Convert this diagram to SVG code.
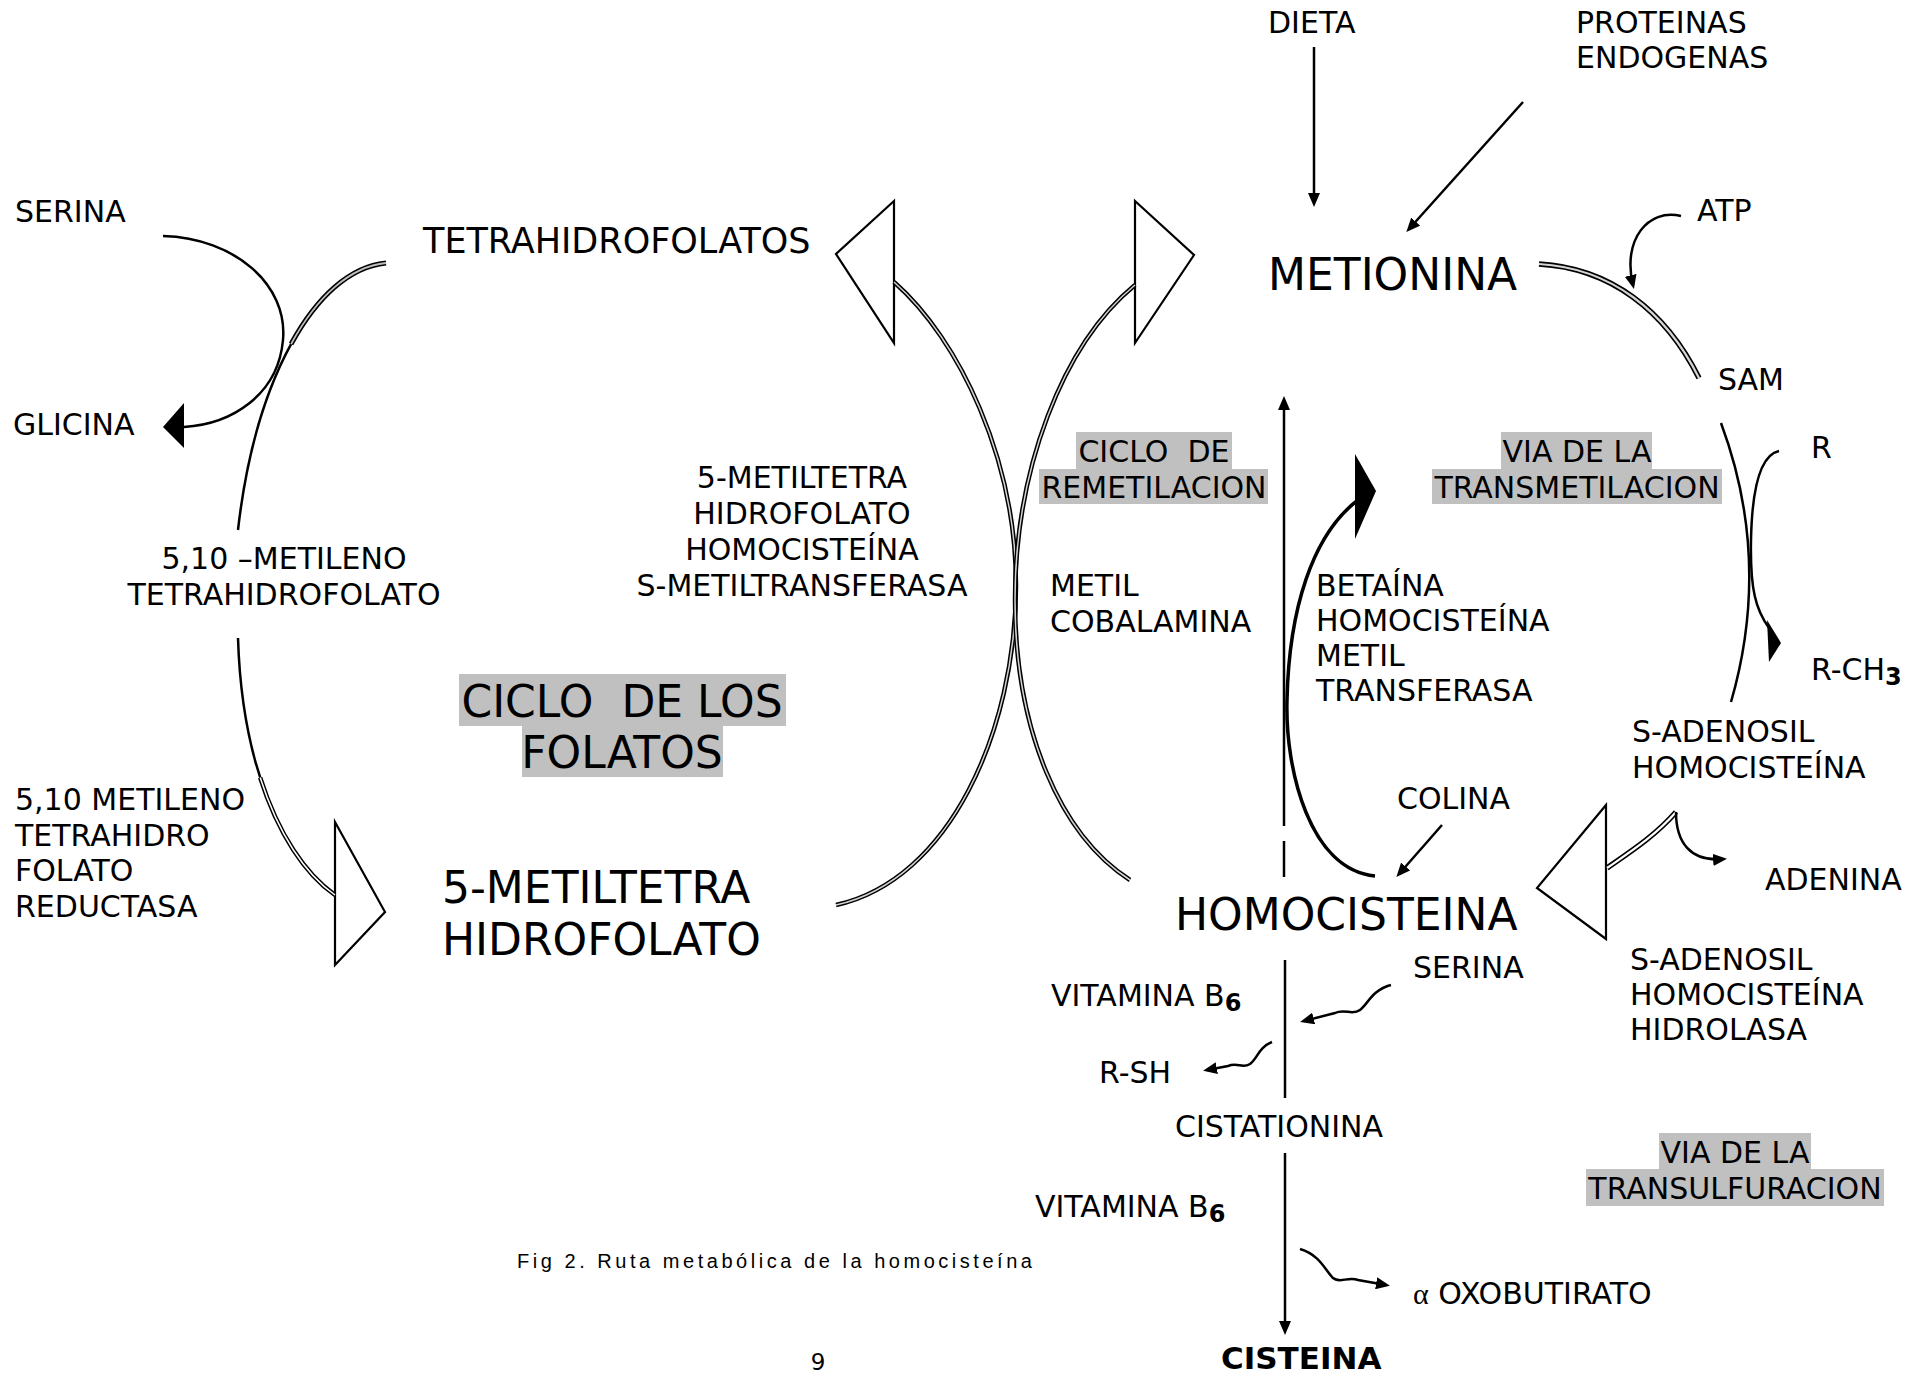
<svg xmlns="http://www.w3.org/2000/svg" width="1908" height="1376" viewBox="0 0 1908 1376" xml:space="preserve">
<style>
text{font-family:"DejaVu Sans",Verdana,sans-serif;font-size:30px;fill:#000;white-space:pre}
.b{font-size:44px}
.m{font-size:35px}
.c{text-anchor:middle}
.sb{font-size:24px;font-weight:bold}
.hl{fill:#c0c0c0}
.ln{fill:none;stroke:#000;stroke-width:2.5}
.thick{stroke-width:3.5}
.o{fill:none;stroke:#000;stroke-width:5.5}
.i{fill:none;stroke:#d4d4d4;stroke-width:2.2}
.tri{fill:#fff;stroke:#000;stroke-width:2.2;stroke-linejoin:miter}
.sol{fill:#000;stroke:none}
</style>
<defs>
<marker id="ah" viewBox="0 0 14 12" refX="10" refY="6" markerWidth="14" markerHeight="12" markerUnits="userSpaceOnUse" orient="auto"><path d="M0,0 L14,6 L0,12 z"/></marker>
<path id="cTetra" d="M386,263 C315,270 255,380 238,530" pathLength="100"/>
<path id="cRed" d="M238,638 C242,770 285,860 335,895" pathLength="100"/>
<path id="cLeftBig" d="M894,282 C960,340 1016,460 1016,585 C1016,730 950,880 836,905"/>
<path id="cRightBig" d="M1135,285 C1062,345 1015,470 1015,600 C1015,730 1060,835 1130,880"/>
<path id="cMet" d="M1539,264 C1610,268 1665,310 1699,378"/>
<path id="cSah" d="M1607,868 C1630,852 1655,836 1676,812"/>
</defs>
<rect width="1908" height="1376" fill="#fff"/>

<g id="highlights">
<rect class="hl" x="1076" y="432" width="156" height="37"/>
<rect class="hl" x="1039" y="469" width="229" height="35"/>
<rect class="hl" x="1501" y="432" width="151" height="37"/>
<rect class="hl" x="1432" y="469" width="290" height="35"/>
<rect class="hl" x="459" y="674" width="327" height="52"/>
<rect class="hl" x="522" y="726" width="201" height="51"/>
<rect class="hl" x="1659" y="1133" width="152" height="36"/>
<rect class="hl" x="1586" y="1169" width="298" height="37"/>
</g>

<g id="connectors">
<line class="ln" x1="1314" y1="47" x2="1314" y2="203" marker-end="url(#ah)"/>
<line class="ln" x1="1523" y1="102" x2="1409" y2="229" marker-end="url(#ah)"/>
<path class="ln" d="M1681,216 C1648,208 1622,240 1633,285" marker-end="url(#ah)"/>
<use href="#cMet" class="o"/>
<use href="#cMet" class="i"/>
<path class="ln" d="M1721,423 Q1772,560 1731,702"/>
<path class="ln" d="M1779,451 C1760,455 1752,490 1751,540 C1750,590 1756,610 1769,628"/>
<polygon class="sol" points="1767,620 1781,643 1769,662"/>
<polygon class="tri" points="1606,805 1537,888 1606,939"/>
<use href="#cSah" class="o"/>
<use href="#cSah" class="i" style="stroke:#fff"/>
<path class="ln" d="M1676,812 C1676,842 1690,862 1723,859" marker-end="url(#ah)"/>
<path class="ln thick" d="M1375,876 C1310,870 1285,770 1287,700 C1289,610 1312,535 1358,500"/>
<polygon class="sol" points="1355,454 1376,491 1355,539"/>
<line class="ln" x1="1442" y1="825" x2="1399" y2="874" marker-end="url(#ah)"/>
<line class="ln" x1="1284" y1="877" x2="1284" y2="841"/>
<line class="ln" x1="1284" y1="826" x2="1284" y2="400" marker-end="url(#ah)"/>
<line class="ln" x1="1285" y1="960" x2="1285" y2="1098"/>
<line class="ln" x1="1285" y1="1153" x2="1285" y2="1331" marker-end="url(#ah)"/>
<path class="ln" d="M1391,985 C1372,990 1368,1004 1360,1010 C1352,1016 1345,1008 1335,1013 L1304,1021" marker-end="url(#ah)"/>
<path class="ln" d="M1272,1042 C1258,1048 1258,1058 1250,1064 C1242,1069 1238,1062 1228,1066 L1207,1070" marker-end="url(#ah)"/>
<path class="ln" d="M1300,1249 C1320,1255 1325,1270 1333,1278 C1340,1284 1348,1276 1358,1280 L1386,1285" marker-end="url(#ah)"/>
<path class="ln" d="M163,236 C235,238 288,285 283,340 C278,395 232,424 184,427"/>
<polygon class="sol" points="184,403 163,427 184,448"/>
<path class="ln" d="M386,263 C315,270 255,380 238,530"/>
<use href="#cTetra" class="o" style="stroke-width:5;stroke-dasharray:40 60"/>
<use href="#cTetra" class="i" style="stroke-width:1.8;stroke-dasharray:40 60;stroke:#bdbdbd"/>
<polygon class="tri" points="335,822 385,912 335,965"/>
<path class="ln" d="M238,638 C242,770 285,860 335,895"/>
<use href="#cRed" class="o" style="stroke-width:4.5;stroke-dasharray:0 50 50 0"/>
<use href="#cRed" class="i" style="stroke-width:1.5;stroke-dasharray:0 50 50 0;stroke:#fff"/>
<polygon class="tri" points="894,201 836,254 894,343"/>
<polygon class="tri" points="1135,201 1194,255 1135,343"/>
<use href="#cLeftBig" class="o" style="stroke-width:4.5"/>
<use href="#cLeftBig" class="i" style="stroke-width:1.5"/>
<use href="#cRightBig" class="o" style="stroke-width:4.5"/>
<use href="#cRightBig" class="i" style="stroke-width:1.5"/>
</g>

<g id="n-dieta"><text x="1268" y="33">DIETA</text></g>
<g id="n-proteinas"><text x="1576" y="33">PROTEINAS</text><text x="1576" y="68">ENDOGENAS</text></g>
<g id="n-serina1"><text x="15" y="222">SERINA</text></g>
<g id="n-glicina"><text x="13" y="435">GLICINA</text></g>
<g id="n-thf"><text class="m" x="423" y="253">TETRAHIDROFOLATOS</text></g>
<g id="n-metionina"><text class="b" x="1268" y="290">METIONINA</text></g>
<g id="n-atp"><text x="1697" y="221">ATP</text></g>
<g id="n-sam"><text x="1718" y="390">SAM</text></g>
<g id="n-r"><text x="1811" y="458">R</text></g>
<g id="n-rch3"><text x="1811" y="680">R-CH<tspan class="sb" dy="5">3</tspan></text></g>
<g id="n-remetilacion"><text class="c" x="1154" y="462">CICLO  DE</text><text class="c" x="1154" y="498">REMETILACION</text></g>
<g id="n-transmetilacion"><text class="c" x="1577" y="462">VIA DE LA</text><text class="c" x="1577" y="498">TRANSMETILACION</text></g>
<g id="n-mtr"><text class="c" x="802" y="488">5-METILTETRA</text><text class="c" x="802" y="524">HIDROFOLATO</text><text class="c" x="802" y="560">HOMOCISTEÍNA</text><text class="c" x="802" y="596">S-METILTRANSFERASA</text></g>
<g id="n-mthf"><text class="c" x="284" y="569">5,10 –METILENO</text><text class="c" x="284" y="605">TETRAHIDROFOLATO</text></g>
<g id="n-mthfr"><text x="15" y="810">5,10 METILENO</text><text x="15" y="846">TETRAHIDRO</text><text x="15" y="881">FOLATO</text><text x="15" y="917">REDUCTASA</text></g>
<g id="n-ciclofolatos"><text class="b c" x="622" y="717">CICLO  DE LOS</text><text class="b c" x="622" y="768">FOLATOS</text></g>
<g id="n-5mthf"><text class="b" x="442" y="903">5-METILTETRA</text><text class="b" x="442" y="955">HIDROFOLATO</text></g>
<g id="n-metilcobalamina"><text x="1050" y="596">METIL</text><text x="1050" y="632">COBALAMINA</text></g>
<g id="n-bhmt"><text x="1316" y="596">BETAÍNA</text><text x="1316" y="631">HOMOCISTEÍNA</text><text x="1316" y="666">METIL</text><text x="1316" y="701">TRANSFERASA</text></g>
<g id="n-sah"><text x="1632" y="742">S-ADENOSIL</text><text x="1632" y="778">HOMOCISTEÍNA</text></g>
<g id="n-colina"><text x="1397" y="809">COLINA</text></g>
<g id="n-adenina"><text x="1765" y="890">ADENINA</text></g>
<g id="n-homocisteina"><text class="b" x="1175" y="930">HOMOCISTEINA</text></g>
<g id="n-serina2"><text x="1413" y="978">SERINA</text></g>
<g id="n-sahh"><text x="1630" y="970">S-ADENOSIL</text><text x="1630" y="1005">HOMOCISTEÍNA</text><text x="1630" y="1040">HIDROLASA</text></g>
<g id="n-vitb6a"><text x="1051" y="1006">VITAMINA B<tspan class="sb" dy="5">6</tspan></text></g>
<g id="n-rsh"><text x="1099" y="1083">R-SH</text></g>
<g id="n-cistationina"><text x="1175" y="1137">CISTATIONINA</text></g>
<g id="n-transulfuracion"><text class="c" x="1735" y="1163">VIA DE LA</text><text class="c" x="1735" y="1199">TRANSULFURACION</text></g>
<g id="n-vitb6b"><text x="1035" y="1217">VITAMINA B<tspan class="sb" dy="5">6</tspan></text></g>
<g id="n-oxobutirato"><text x="1413" y="1304"><tspan style="font-family:'Liberation Serif',serif">α</tspan> OXOBUTIRATO</text></g>
<g id="n-cisteina"><text x="1221" y="1369" style="font-weight:bold;font-size:31px">CISTEINA</text></g>
<g id="caption"><text x="517" y="1268" style="font-family:'Liberation Sans',Arial,sans-serif;font-size:20px" textLength="515" lengthAdjust="spacing">Fig 2. Ruta metabólica de la homocisteína</text></g>
<g id="page"><text class="c" x="818" y="1370" style="font-size:23px">9</text></g>
</svg>
